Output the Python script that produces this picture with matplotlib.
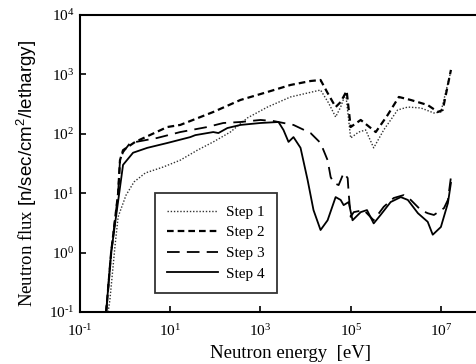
import numpy as np
import matplotlib
matplotlib.use("Agg")
import matplotlib.pyplot as plt
from matplotlib.ticker import FixedLocator, NullLocator, FuncFormatter

plt.rcParams['font.family'] = ['Liberation Serif', 'DejaVu Serif']
plt.rcParams['mathtext.fontset'] = 'custom'
plt.rcParams['mathtext.rm'] = 'Liberation Serif'
plt.rcParams['mathtext.it'] = 'Liberation Serif:italic'
plt.rcParams['mathtext.sf'] = 'Liberation Sans'
plt.rcParams['axes.unicode_minus'] = False

# values (energy in eV, flux in n/sec/cm2/lethargy)
e_step1 = [0.42, 0.46, 0.60, 0.70, 1.05, 1.58, 2.8, 7.0, 16.7, 40, 90, 215, 514, 1430,
           4640, 21500, 32400, 46400, 60000, 77400, 1.0e5, 1.5e5, 2.15e5, 3.24e5,
           5.4e5, 1.1e6, 1.85e6, 3.6e6, 7.0e6, 1.0e7, 1.6e7]
f_step1 = [0.1, 0.16, 1.34, 4.0, 9.3, 15.5, 21.9, 27.6, 36, 53, 73, 107, 185, 282,
           417, 546, 330, 192, 282, 487, 85, 107, 116, 58,
           116, 252, 282, 272, 224, 233, 1000]

e_step2 = [0.38, 0.49, 0.70, 0.77, 0.90, 1.67, 8.6, 16.7, 90, 360, 1430, 4640, 12900,
           21500, 30800, 46400, 60000, 81500, 1.0e5, 1.67e5, 3.6e5, 6.6e5, 1.17e6,
           2.15e6, 5.1e6, 8.6e6, 1.1e7, 1.67e7]
f_step2 = [0.1, 1.0, 10, 36, 53, 73, 130, 141, 233, 371, 506, 664, 774,
           805, 487, 282, 343, 526, 130, 171, 107, 207, 417,
           371, 305, 233, 252, 1190]

e_step3 = [0.38, 0.49, 0.70, 0.77, 0.90, 1.29, 5.1, 16.7, 66, 150, 360, 1000, 1945,
           5400, 12900, 21500, 30800, 36000, 41900, 54100, 69900, 85800, 90300,
           1.0e5, 1.17e5, 1.95e5, 3.24e5, 5.4e5, 9.0e5, 1.5e6, 2.15e6, 3.6e6,
           5.1e6, 7.0e6, 1.17e7, 1.43e7, 1.67e7]
f_step3 = [0.1, 1.0, 10, 36, 49, 70, 85, 107, 130, 152, 158, 171, 164,
           141, 103, 70, 36, 18.7, 14.9, 13.7, 21.9, 18, 10,
           4.0, 4.8, 5.2, 3.5, 5.9, 8.3, 9.3, 7.7, 5.2,
           4.6, 4.3, 5.6, 7.7, 18.7]

e_step4 = [0.38, 0.49, 0.74, 0.90, 1.5, 3.1, 8.6, 27.8, 36, 90, 117, 185, 360, 1000,
           2510, 3240, 4190, 5400, 7740, 11100, 15000, 21500, 30800, 46400, 60000,
           69900, 90300, 1.1e5, 1.67e5, 2.3e5, 3.24e5, 4.6e5, 7.7e5, 1.29e6, 1.85e6,
           3.1e6, 5.1e6, 6.6e6, 1.0e7, 1.43e7, 1.67e7]
f_step4 = [0.1, 1.0, 10, 30, 48, 58, 70, 88, 95, 107, 103, 125, 141, 152,
           158, 116, 73, 88, 58, 16.7, 5.2, 2.4, 3.5, 8.6, 7.7,
           6.3, 7.1, 3.5, 4.8, 5.2, 3.1, 4.3, 7.1, 8.6, 7.7,
           4.6, 3.3, 2.0, 2.7, 6.8, 14.9]

x_ticks = [1e-1, 1e1, 1e3, 1e5, 1e7]
y_ticks = [1e-1, 1e0, 1e1, 1e2, 1e3, 1e4]


def pow10(v, pos):
    # plain hyphen in the exponent, like the original figure
    p = int(round(np.log10(v)))
    if p < 0:
        return r'$10^{\text{-}%d}$' % (-p)
    return r'$10^{%d}$' % p


fig = plt.figure(figsize=(4.76, 3.64), dpi=100)
ax = fig.add_axes([80 / 476, 52 / 364, 406 / 476, 297 / 364])

ax.plot(e_step1, f_step1, color='#333333', lw=1.0, ls=(0, (1, 1.3)), label='Step 1')
ax.plot(e_step2, f_step2, color='black', lw=1.6, ls=(0, (3, 1.8)), label='Step 2')
ax.plot(e_step3, f_step3, color='black', lw=1.3, ls=(0, (7, 4)), label='Step 3')
ax.plot(e_step4, f_step4, color='black', lw=1.3, ls='-', label='Step 4')

ax.set_xscale('log')
ax.set_yscale('log')
ax.set_xlim(0.1, 1e8)
ax.set_ylim(0.1, 1e4)
ax.xaxis.set_major_locator(FixedLocator(x_ticks))
ax.yaxis.set_major_locator(FixedLocator(y_ticks))
ax.xaxis.set_major_formatter(FuncFormatter(pow10))
ax.yaxis.set_major_formatter(FuncFormatter(pow10))
ax.xaxis.set_minor_locator(NullLocator())
ax.yaxis.set_minor_locator(NullLocator())
ax.tick_params(direction='in', length=4, width=1.2, labelsize=11, colors='black')
ax.tick_params(axis='x', pad=8)
ax.tick_params(axis='y', pad=4)

for side in ['left', 'bottom', 'top', 'right']:
    ax.spines[side].set_linewidth(1.5)

ax.set_xlabel('Neutron energy  [eV]', fontsize=13.5)
ax.xaxis.set_label_coords(0.5 * (207 + 373) / 406 - 80 / 406, -0.11)
ax.set_ylabel(r'Neutron flux $\mathsf{[n/sec/cm^2/lethargy]}$', fontsize=13.5)
ax.yaxis.set_label_coords(-0.1, 0.468)

leg = ax.legend(loc='upper left', bbox_to_anchor=(75 / 406, 1 - 178 / 297),
                fontsize=11, frameon=True, fancybox=False, handlelength=3.3,
                handletextpad=0.55, labelspacing=0.45, borderpad=0.8, borderaxespad=0)
leg.get_frame().set_edgecolor('black')
leg.get_frame().set_linewidth(1.3)

fig.savefig('out.png', dpi=100)
